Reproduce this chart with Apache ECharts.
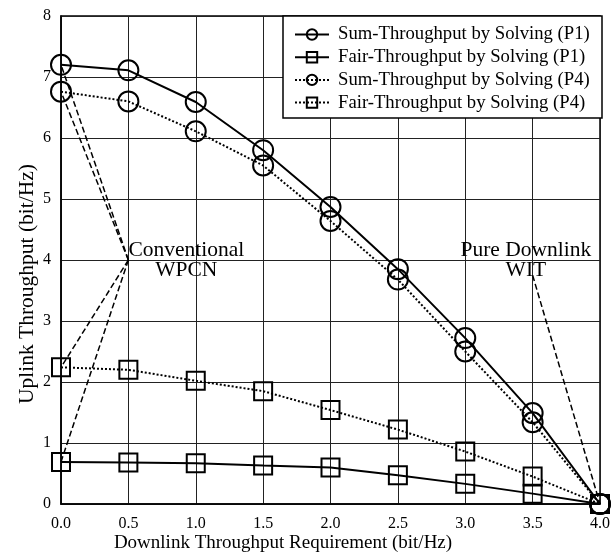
<!DOCTYPE html>
<html><head><meta charset="utf-8">
<script src="https://cdn.jsdelivr.net/npm/echarts@6/dist/echarts.min.js"></script>
<style>html,body{margin:0;padding:0;background:#fff}#c{width:613px;height:557px}</style>
</head><body><div id="c"></div>
<script>
var xValues = [0.0, 0.5, 1.0, 1.5, 2.0, 2.5, 3.0, 3.5, 4.0];
var sumP1  = [7.20, 7.11, 6.59, 5.80, 4.87, 3.85, 2.72, 1.49, 0.0];
var fairP1 = [0.69, 0.68, 0.67, 0.63, 0.60, 0.47, 0.33, 0.17, 0.0];
var sumP4  = [6.76, 6.60, 6.11, 5.55, 4.64, 3.68, 2.50, 1.34, 0.0];
var fairP4 = [2.24, 2.20, 2.02, 1.85, 1.54, 1.22, 0.86, 0.45, 0.0];
var seriesNames = ['Sum-Throughput by Solving (P1)', 'Fair-Throughput by Solving (P1)', 'Sum-Throughput by Solving (P4)', 'Fair-Throughput by Solving (P4)'];
var xTitle = 'Downlink Throughput Requirement (bit/Hz)';
var yTitle = 'Uplink Throughput (bit/Hz)';
var wpcnLabel = 'Conventional\nWPCN';
var wpcnFrom = [0.5, 4.0];
var wpcnTargets = [[0, 7.20], [0, 6.76], [0, 2.24], [0, 0.69]];
var wpcnTextAt = [0.93, 4.0];
var witLabel = 'Pure Downlink\nWIT';
var witFrom = [3.5, 3.75];
var witTarget = [4.0, 0.0];
var witTextAt = [3.45, 4.0];

var FONT = 'Liberation Serif';
function pairs(vals){ return xValues.map(function(x,i){ return [x, vals[i]]; }); }
function mk(name, vals, sym, dotted, size){
  return {
    name: name, type: 'line', data: pairs(vals), symbol: sym, symbolSize: size,
    lineStyle: { color: '#000', width: 2, type: dotted ? [2, 2] : 'solid' },
    itemStyle: { color: 'rgba(0,0,0,0)', borderColor: '#000', borderWidth: 2 },
    emphasis: { disabled: true }, z: 3
  };
}
var arrowLines = wpcnTargets.map(function(t){ return [{ coord: wpcnFrom }, { coord: t }]; });
arrowLines.push([{ coord: witFrom }, { coord: witTarget }]);

var chart = echarts.init(document.getElementById('c'));
var option = {
  animation: false,
  backgroundColor: '#fff',
  textStyle: { fontFamily: FONT, color: '#000' },
  grid: { left: 61, top: 16, right: 11, bottom: 53, show: true, borderColor: '#000', borderWidth: 1.5, backgroundColor: 'transparent' },
  xAxis: {
    type: 'value', min: 0, max: 4, interval: 0.5,
    axisLine: { lineStyle: { color: '#000', width: 1.5 } },
    axisTick: { show: false },
    axisLabel: { color: '#000', fontFamily: FONT, fontSize: 16, margin: 12, formatter: function(v){ return v.toFixed(1); } },
    splitLine: { show: true, lineStyle: { color: '#222', width: 1 } }
  },
  yAxis: {
    type: 'value', min: 0, max: 8, interval: 1,
    axisLine: { lineStyle: { color: '#000', width: 1.5 } },
    axisTick: { show: false },
    axisLabel: { color: '#000', fontFamily: FONT, fontSize: 16, margin: 10 },
    splitLine: { show: true, lineStyle: { color: '#222', width: 1 } }
  },
  legend: {
    orient: 'vertical', left: 284, top: 16, itemWidth: 34, itemHeight: 13, itemGap: 3.7,
    padding: [9, 10, 8, 10], z: 5,
    textStyle: { fontFamily: FONT, fontSize: 18.7, color: '#000', padding: [0, 0, 0, 4] },
    data: seriesNames, selectedMode: false
  },
  series: [
    mk(seriesNames[0], sumP1, 'circle', false, 20),
    mk(seriesNames[1], fairP1, 'rect', false, 18),
    mk(seriesNames[2], sumP4, 'circle', true, 20),
    mk(seriesNames[3], fairP4, 'rect', true, 18),
    {
      type: 'line', data: [], silent: true,
      markLine: {
        silent: true, symbol: ['none', 'arrow'], symbolSize: [0, 9], label: { show: false },
        lineStyle: { color: '#000', width: 1.5, type: [6, 3] },
        data: arrowLines
      }
    }
  ]
};
chart.setOption(option);
var p1 = chart.convertToPixel({ gridIndex: 0 }, wpcnTextAt);
var p2 = chart.convertToPixel({ gridIndex: 0 }, witTextAt);
chart.setOption({
  graphic: [
    { type: 'rect', z: 4, shape: { x: 283, y: 16, width: 319, height: 102 }, style: { fill: '#fff', stroke: '#000', lineWidth: 1.5 } },
    { type: 'text', x: p1[0], y: p1[1], z: 10, style: { text: wpcnLabel, fontFamily: FONT, fontSize: 21.5, lineHeight: 20, fill: '#000', align: 'center', verticalAlign: 'middle' } },
    { type: 'text', x: p2[0], y: p2[1], z: 10, style: { text: witLabel, fontFamily: FONT, fontSize: 21.5, lineHeight: 20, fill: '#000', align: 'center', verticalAlign: 'middle' } },
    { type: 'text', x: 283, y: 543, style: { text: xTitle, fontFamily: FONT, fontSize: 19, fill: '#000', align: 'center', verticalAlign: 'middle' } },
    { type: 'text', x: 27, y: 284, rotation: Math.PI / 2, style: { text: yTitle, fontFamily: FONT, fontSize: 21.5, fill: '#000', align: 'center', verticalAlign: 'middle' } }
  ]
});
</script></body></html>
